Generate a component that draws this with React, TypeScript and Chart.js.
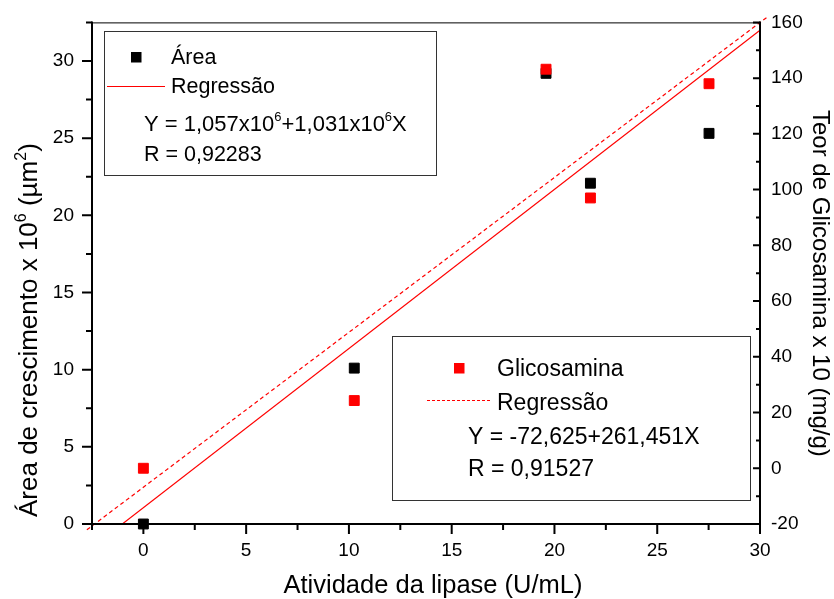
import React, { useEffect, useRef } from "react";
import { Chart, registerables } from "chart.js";

Chart.register(...registerables);

// ---- data ----
const activity = [0, 10.26, 19.59, 21.75, 27.52]; // Atividade da lipase (U/mL)
const areaValues = [0, 10.1, 29.2, 22.08, 25.31]; // Área x 10^6 (µm²)
const glucosamineValues = [0, 24.3, 143.2, 97, 138]; // Teor de glicosamina x 10 (mg/g)

// regression lines (end points)
const areaFitX = [-2.5, 30];
const areaFitY = [-1.52, 31.99];
const glucoFitX = [-2.75, 30.35];
const glucoFitY = [-22.1, 161.9];

// tick labels
const xTicks = [0, 5, 10, 15, 20, 25, 30];
const yTicks = [0, 5, 10, 15, 20, 25, 30];
const y2Ticks = [-20, 0, 20, 40, 60, 80, 100, 120, 140, 160];

const legendArea = { symbol: "Área", fit: "Regressão", eq: "Y = 1,057x10|6|+1,031x10|6|X", r: "R = 0,92283" };
const legendGluco = { symbol: "Glicosamina", fit: "Regressão", eq: "Y = -72,625+261,451X", r: "R = 0,91527" };

const RED = "#ff0000";
const BLACK = "#000000";
const FONT = "'Liberation Sans', Arial, sans-serif";

type Part = { t: string; sup?: boolean };

function parseRich(s: string): Part[] {
  return s.split("|").map((t, i) => ({ t, sup: i % 2 === 1 }));
}

function drawRich(ctx: CanvasRenderingContext2D, parts: Part[], x: number, y: number, size: number) {
  let cx = x;
  for (const p of parts) {
    const fs = Math.round(p.sup ? size * 0.62 : size);
    ctx.font = `${fs}px ${FONT}`;
    ctx.fillText(p.t, cx, p.sup ? y - size * 0.42 : y);
    cx += ctx.measureText(p.t).width;
  }
}

const framePlugin = {
  id: "frame",
  afterDraw(chart: any) {
    const ctx: CanvasRenderingContext2D = chart.ctx;
    const { left, right, top, bottom } = chart.chartArea;
    const xs = chart.scales.x;
    const ys = chart.scales.y;
    const y2 = chart.scales.y2;
    ctx.save();
    ctx.strokeStyle = BLACK;
    ctx.lineCap = "butt";

    // frame
    ctx.lineWidth = 1;
    ctx.beginPath();
    ctx.moveTo(left, top + 0.5);
    ctx.lineTo(right, top + 0.5);
    ctx.stroke();
    ctx.lineWidth = 2;
    ctx.beginPath();
    ctx.moveTo(left, top - 1);
    ctx.lineTo(left, bottom + 1);
    ctx.moveTo(left - 1, bottom);
    ctx.lineTo(right + 1, bottom);
    ctx.moveTo(right, top - 1);
    ctx.lineTo(right, bottom + 1);
    ctx.stroke();

    // bottom ticks (outward)
    ctx.beginPath();
    xTicks.forEach((v) => {
      const px = xs.getPixelForValue(v);
      ctx.moveTo(px, bottom);
      ctx.lineTo(px, bottom + 10);
      const mx = xs.getPixelForValue(v - 2.5);
      ctx.moveTo(mx, bottom);
      ctx.lineTo(mx, bottom + 6);
    });
    // left ticks (outward)
    yTicks.forEach((v) => {
      const py = ys.getPixelForValue(v);
      ctx.moveTo(left, py);
      ctx.lineTo(left - 10, py);
      const my = ys.getPixelForValue(v + 2.5);
      ctx.moveTo(left, my);
      ctx.lineTo(left - 6, my);
    });
    // right ticks (inward)
    y2Ticks.forEach((v) => {
      const py = y2.getPixelForValue(v);
      ctx.moveTo(right, py);
      ctx.lineTo(right - 7, py);
      if (v < 160) {
        const my = y2.getPixelForValue(v + 10);
        ctx.moveTo(right, my);
        ctx.lineTo(right - 4, my);
      }
    });
    ctx.stroke();

    // axis titles
    ctx.fillStyle = BLACK;
    ctx.textBaseline = "alphabetic";
    ctx.textAlign = "center";
    ctx.font = `25.5px ${FONT}`;
    ctx.fillText("Atividade da lipase (U/mL)", 433, 593);

    ctx.textAlign = "left";
    ctx.save();
    ctx.translate(37, 517);
    ctx.rotate(-Math.PI / 2);
    drawRich(ctx, parseRich("Área de crescimento x 10|6| (µm|2|)"), 0, 0, 25.5);
    ctx.restore();

    ctx.save();
    ctx.translate(813, 110);
    ctx.rotate(Math.PI / 2);
    ctx.font = `24px ${FONT}`;
    ctx.fillText("Teor de Glicosamina x 10 (mg/g)", 0, 0);
    ctx.restore();

    // legend box 1
    ctx.fillStyle = "#ffffff";
    ctx.fillRect(104, 31, 332, 144);
    ctx.strokeStyle = "#333333";
    ctx.lineWidth = 1;
    ctx.strokeRect(104.5, 31.5, 332, 144);
    ctx.fillStyle = BLACK;
    ctx.fillRect(131, 52, 10.5, 10.5);
    ctx.strokeStyle = RED;
    ctx.beginPath();
    ctx.moveTo(107, 86.5);
    ctx.lineTo(165, 86.5);
    ctx.stroke();
    ctx.fillStyle = BLACK;
    ctx.font = `21.5px ${FONT}`;
    ctx.fillText(legendArea.symbol, 171, 64);
    ctx.fillText(legendArea.fit, 171, 93);
    drawRich(ctx, parseRich(legendArea.eq), 144, 130.5, 21.5);
    ctx.font = `21.5px ${FONT}`;
    ctx.fillText(legendArea.r, 144, 161);

    // legend box 2
    ctx.fillStyle = "#ffffff";
    ctx.fillRect(392, 336, 359, 165);
    ctx.strokeStyle = "#333333";
    ctx.strokeRect(392.5, 336.5, 358, 164);
    ctx.fillStyle = RED;
    ctx.fillRect(454, 363, 10.5, 10.5);
    ctx.strokeStyle = RED;
    ctx.setLineDash([3, 2]);
    ctx.beginPath();
    ctx.moveTo(427, 400.5);
    ctx.lineTo(490, 400.5);
    ctx.stroke();
    ctx.setLineDash([]);
    ctx.fillStyle = BLACK;
    ctx.font = `23px ${FONT}`;
    ctx.fillText(legendGluco.symbol, 497, 376);
    ctx.fillText(legendGluco.fit, 497, 410);
    ctx.fillText(legendGluco.eq, 468, 444);
    ctx.fillText(legendGluco.r, 468, 476);

    ctx.restore();
  },
};

export default function App() {
  const ref = useRef<HTMLCanvasElement>(null);
  useEffect(() => {
    document.body.style.margin = "0";
    const canvas = ref.current!;
    const tickFont = { family: FONT, size: 19 };
    const chart = new Chart(canvas, {
      type: "scatter",
      data: {
        datasets: [
          {
            label: "Glicosamina",
            data: activity.map((x, i) => ({ x, y: glucosamineValues[i] })),
            yAxisID: "y2",
            showLine: false,
            pointStyle: "rect",
            pointRadius: 7,
            pointBackgroundColor: RED,
            pointBorderColor: RED,
            pointBorderWidth: 1,
            clip: false,
            order: 0,
          },
          {
            label: "Área",
            data: activity.map((x, i) => ({ x, y: areaValues[i] })),
            yAxisID: "y",
            showLine: false,
            pointStyle: "rect",
            pointRadius: 7,
            pointBackgroundColor: BLACK,
            pointBorderColor: BLACK,
            pointBorderWidth: 1,
            clip: false,
            order: 1,
          },
          {
            label: "Regressão (Área)",
            data: areaFitX.map((x, i) => ({ x, y: areaFitY[i] })),
            yAxisID: "y",
            showLine: true,
            borderColor: RED,
            borderWidth: 1.2,
            pointRadius: 0,
            order: 2,
          },
          {
            label: "Regressão (Glicosamina)",
            data: glucoFitX.map((x, i) => ({ x, y: glucoFitY[i] })),
            yAxisID: "y2",
            showLine: true,
            borderColor: RED,
            borderWidth: 1.2,
            borderDash: [4, 3],
            pointRadius: 0,
            clip: false,
            order: 3,
          },
        ],
      } as any,
      options: {
        responsive: false,
        animation: false,
        devicePixelRatio: 1,
        layout: { padding: { top: 19, left: 0, right: 0, bottom: 0 } },
        plugins: { legend: { display: false }, tooltip: { enabled: false } },
        scales: {
          x: {
            type: "linear",
            position: "bottom",
            min: -2.5,
            max: 30,
            afterBuildTicks: (s: any) => {
              s.ticks = xTicks.map((v) => ({ value: v }));
            },
            afterFit: (s: any) => {
              s.height = 75;
            },
            grid: { display: false, drawTicks: true, tickLength: 10 },
            border: { display: false },
            ticks: { padding: 5, font: tickFont, color: BLACK, autoSkip: false, maxRotation: 0, callback: (v: any) => String(v) },
          },
          y: {
            type: "linear",
            position: "left",
            min: 0,
            max: 32.5,
            afterBuildTicks: (s: any) => {
              s.ticks = yTicks.map((v) => ({ value: v }));
            },
            afterFit: (s: any) => {
              s.width = 92;
            },
            grid: { display: false, drawTicks: true, tickLength: 10 },
            border: { display: false },
            ticks: { padding: 8, font: tickFont, color: BLACK, autoSkip: false, callback: (v: any) => String(v) },
          },
          y2: {
            type: "linear",
            position: "right",
            min: -20,
            max: 160,
            afterBuildTicks: (s: any) => {
              s.ticks = y2Ticks.map((v) => ({ value: v }));
            },
            afterFit: (s: any) => {
              s.width = 74;
            },
            grid: { display: false, drawTicks: false },
            border: { display: false },
            ticks: { padding: 11, font: tickFont, color: BLACK, autoSkip: false, callback: (v: any) => String(v) },
          },
        },
      } as any,
      plugins: [framePlugin],
    });
    return () => chart.destroy();
  }, []);
  return (
    <div style={{ position: "absolute", left: 0, top: 0, width: 834, height: 599, background: "#fff" }}>
      <canvas ref={ref} width={834} height={599} style={{ display: "block" }} />
    </div>
  );
}
